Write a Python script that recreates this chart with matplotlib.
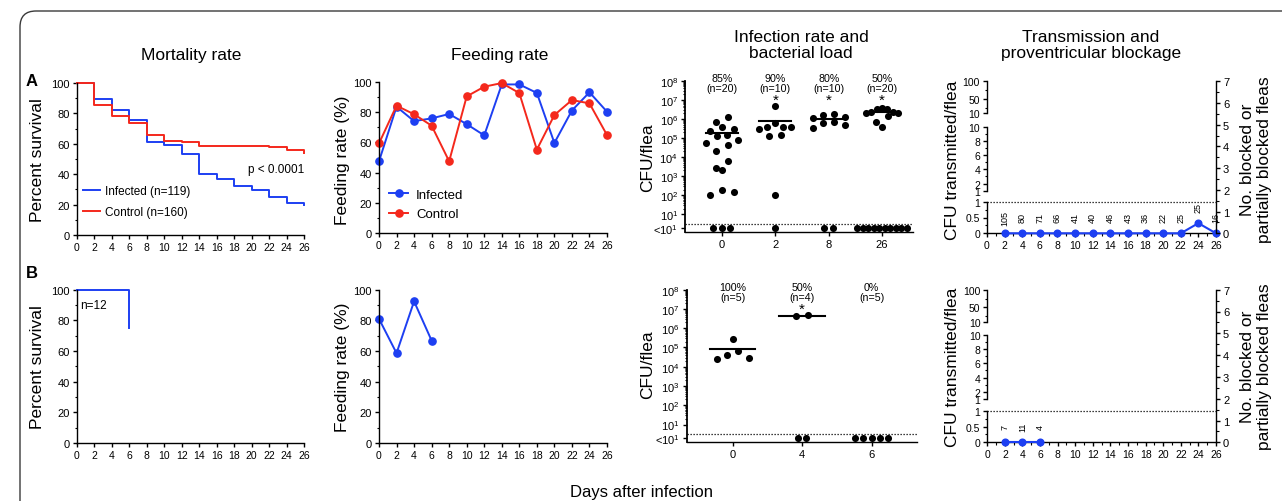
import numpy as np
import matplotlib
matplotlib.use('Agg')
import matplotlib.pyplot as plt
from matplotlib.patches import FancyBboxPatch
from matplotlib.ticker import MultipleLocator, FixedLocator, FixedFormatter, FuncFormatter
from matplotlib.transforms import blended_transform_factory

plt.rcParams['font.family'] = ['Liberation Sans', 'DejaVu Sans']
plt.rcParams['mathtext.default'] = 'regular'
plt.rcParams['axes.linewidth'] = 1.0
plt.rcParams['xtick.major.width'] = 1.0
plt.rcParams['ytick.major.width'] = 1.0
plt.rcParams['xtick.minor.width'] = 0.8
plt.rcParams['ytick.minor.width'] = 0.8
plt.rcParams['xtick.major.size'] = 3
plt.rcParams['ytick.major.size'] = 3
plt.rcParams['xtick.minor.size'] = 1.8
plt.rcParams['ytick.minor.size'] = 1.8
plt.rcParams['xtick.major.pad'] = 2
plt.rcParams['ytick.major.pad'] = 2
plt.rcParams['xtick.labelsize'] = 7.5
plt.rcParams['ytick.labelsize'] = 8

BLUE = '#1d3ff2'
RED = '#f4281c'

# ---------------- data ----------------
days = [0, 2, 4, 6, 8, 10, 12, 14, 16, 18, 20, 22, 24, 26]
surv_infected = [100, 89.5, 82, 75.5, 61.5, 59.5, 53, 40, 37, 32.5, 29.5, 25, 21, 19.5]
surv_control = [100, 85.5, 78, 73.5, 66, 62, 61, 58.5, 58.5, 58.5, 58.5, 57.8, 55.8, 54]
feed_infected = [47.5, 83.5, 74, 75.8, 78.7, 72, 64.6, 98.2, 98.2, 92.6, 59.6, 81, 93, 80.2]
feed_control = [59.3, 84.2, 78.5, 71, 47.5, 90.3, 96.7, 99.1, 92.5, 55.2, 78, 87.9, 85.7, 64.8]

days_b_surv = [0, 6]
surv_b = [100, 75]
days_b_feed = [0, 2, 4, 6]
feed_b = [81, 58.6, 92.4, 66.8]

cfu_labels_a = ['0', '2', '8', '26']
cfu_a = [
    [1.2e6, 7.0e5, 3.8e5, 2.9e5, 2.3e5, 1.4e5, 1.3e5, 7.8e4, 5.4e4, 4.1e4, 2.2e4,
     5.9e3, 2.6e3, 2.0e3, 190, 150, 100],
    [4.7e6, 6.2e5, 4.0e5, 3.8e5, 3.6e5, 2.9e5, 1.4e5, 1.3e5, 100],
    [1.9e6, 1.7e6, 1.3e6, 1.1e6, 6.6e5, 5.8e5, 4.7e5, 3.4e5],
    [3.7e6, 3.4e6, 3.4e6, 2.3e6, 2.3e6, 2.1e6, 2.1e6, 1.4e6, 6.9e5, 3.8e5],
]
cfu_n_a = [20, 10, 10, 20]
cfu_sig_a = [False, True, True, True]

cfu_labels_b = ['0', '4', '6']
cfu_b = [
    [2.8e5, 6.3e4, 4.3e4, 2.9e4, 2.6e4],
    [4.1e6, 4.9e6],
    [],
]
cfu_n_b = [5, 4, 5]
cfu_sig_b = [False, True, False]

LOD_PLOT = 2.0      # where "<10^1" values are shown
LOD_LINE = 3.2      # dotted detection-limit line

tr_days_a = [2, 4, 6, 8, 10, 12, 14, 16, 18, 20, 22, 24, 26]
tr_cfu_a = [0, 0, 0, 0, 0, 0, 0, 0, 0, 0, 0, 0.32, 0]
tr_n_a = [105, 80, 71, 66, 41, 40, 46, 43, 36, 22, 25, 25, 16]
tr_days_b = [2, 4, 6]
tr_cfu_b = [0, 0, 0]
tr_n_b = [7, 11, 4]

# ---------------- figure ----------------
W, H = 1282, 502
fig = plt.figure(figsize=(W / 100, H / 100), dpi=100)


def add_ax(l, t, r, b):
    return fig.add_axes([l / W, 1 - b / H, (r - l) / W, (b - t) / H])


def ftext(x, y, s, **kw):
    fig.text(x / W, 1 - y / H, s, **kw)


def clean(ax):
    ax.spines['top'].set_visible(False)
    ax.spines['right'].set_visible(False)


def mortality_panel(ax, series):
    clean(ax)
    for x, y, c, lab in series:
        ax.step(x, y, where='post', color=c, lw=1.4, clip_on=False, label=lab)
    ax.set_xlim(0, 26)
    ax.set_ylim(0, 100)
    ax.xaxis.set_major_locator(MultipleLocator(2))
    ax.yaxis.set_major_locator(MultipleLocator(20))
    ax.yaxis.set_minor_locator(MultipleLocator(10))


def feeding_panel(ax, series):
    clean(ax)
    for x, y, c, lab in series:
        ax.plot(x, y, color=c, lw=1.4, marker='o', ms=5.2, clip_on=False, label=lab)
    ax.set_xlim(0, 26)
    ax.set_ylim(0, 100)
    ax.xaxis.set_major_locator(MultipleLocator(2))
    ax.yaxis.set_major_locator(MultipleLocator(20))
    ax.yaxis.set_minor_locator(MultipleLocator(10))


def swarm(ax, xc, vals, sp, max_w, row_px=8.0):
    vals = np.asarray(vals, float)
    if len(vals) == 0:
        return np.array([])
    inv = ax.transData.inverted()
    pts = ax.transData.transform(np.column_stack([np.full(len(vals), xc), vals]))
    order = np.argsort(-pts[:, 1], kind='stable')
    rows, cur = [], []
    for i in order:
        if cur and pts[cur[0], 1] - pts[i, 1] > row_px:
            rows.append(cur)
            cur = []
        cur.append(i)
    rows.append(cur)
    xs = np.zeros(len(vals))
    for row in rows:
        n = len(row)
        step = sp if n == 1 else min(sp, max_w / (n - 1))
        if n % 2:
            slots = [0] + [s for k in range(1, n // 2 + 1) for s in (k, -k)]
        else:
            slots = [s for k in range(n // 2) for s in (k + 0.5, -(k + 0.5))]
        for i, s in zip(row, slots):
            xs[i] = inv.transform((pts[i, 0] + s * step, pts[i, 1]))[0]
    return xs


def infection_panel(ax, labels, groups, ns, sig, xlim, half=0.3):
    clean(ax)
    ax.set_yscale('log')
    ax.set_ylim(1.2, 1e8)
    ax.set_xlim(*xlim)
    ax.spines['left'].set_linewidth(1.3)
    ax.set_xticks(range(len(labels)))
    ax.set_xticklabels(labels, fontsize=8)
    majors = [LOD_PLOT] + [10.0 ** e for e in range(1, 9)]
    ax.yaxis.set_major_locator(FixedLocator(majors))
    ax.yaxis.set_major_formatter(FixedFormatter(
        ['<10$^{1}$'] + ['10$^{%d}$' % e for e in range(1, 9)]))
    ax.yaxis.set_minor_locator(FixedLocator(
        [k * 10.0 ** e for e in range(1, 8) for k in range(2, 10)]))
    ax.yaxis.set_minor_formatter(FuncFormatter(lambda v, p: ''))
    ax.tick_params(axis='y', which='minor', length=1.8)
    bt = blended_transform_factory(ax.transData, ax.transAxes)
    for i, (vals, n, s) in enumerate(zip(groups, ns, sig)):
        vals = np.asarray(vals, float)
        xs = swarm(ax, i, vals, 12, 32)
        if len(vals):
            ax.scatter(xs, vals, s=26, color='k', zorder=3, linewidths=0, clip_on=False)
            ax.plot([i - half, i + half], [vals.mean()] * 2, color='k', lw=1.5, zorder=4)
        lod = np.full(n - len(vals), LOD_PLOT)
        xl = swarm(ax, i, lod, 8.4, 50)
        if len(lod):
            ax.scatter(xl, lod, s=26, color='k', zorder=3, linewidths=0, clip_on=False)
        pct = round(100 * len(vals) / n)
        ax.text(i, 0.985, f'{pct}%\n(n={n})', transform=bt, ha='center', va='center',
                fontsize=7.7, linespacing=1.05)
        if s:
            ax.text(i, 0.872, '*', transform=bt, ha='center', va='center', fontsize=11)
    ax.axhline(LOD_LINE, ls=(0, (1, 1.4)), color='k', lw=0.9)


def transmission_panel(l, r, segs, tdays, cfu, ns):
    (t1, b1), (t2, b2), (t3, b3) = segs
    top = add_ax(l, t1, r, b1)
    mid = add_ax(l, t2, r, b2)
    bot = add_ax(l, t3, r, b3)
    top.set_ylim(10, 100)
    mid.set_ylim(1, 10)
    bot.set_ylim(0, 1)
    for a in (top, mid, bot):
        a.set_xlim(0, 26)
        clean(a)
        a.patch.set_visible(False)
        a.tick_params(axis='y', labelsize=7.5)
    for a in (top, mid):
        a.spines['bottom'].set_visible(False)
        a.tick_params(axis='x', which='both', bottom=False, labelbottom=False)
    top.yaxis.set_major_locator(FixedLocator([10, 50, 100]))
    top.yaxis.set_minor_locator(FixedLocator([25, 75]))
    mid.yaxis.set_major_locator(FixedLocator([1, 2, 4, 6, 8, 10]))
    mid.yaxis.set_minor_locator(FixedLocator([3, 5, 7, 9]))
    bot.yaxis.set_major_locator(FixedLocator([0, 0.5, 1]))
    bot.yaxis.set_minor_locator(FixedLocator([0.25, 0.75]))
    bot.yaxis.set_major_formatter(FuncFormatter(lambda v, p: f'{v:g}'))
    bot.xaxis.set_major_locator(MultipleLocator(2))
    bot.xaxis.set_minor_locator(MultipleLocator(1))
    bot.plot(tdays, cfu, color=BLUE, lw=1.5, marker='o', ms=4.8, clip_on=False, zorder=4)
    for d, v, n in zip(tdays, cfu, ns):
        bot.annotate(str(n), (d, v), xytext=(0, 11.5), textcoords='offset points',
                     rotation=90, ha='center', va='center', fontsize=6.5,
                     annotation_clip=False)
    bot.axhline(1, ls=(0, (1, 1.4)), color='k', lw=0.9, clip_on=False)
    right = add_ax(l, t1, r, b3)
    right.patch.set_visible(False)
    for sp in ('top', 'left', 'bottom'):
        right.spines[sp].set_visible(False)
    right.set_xlim(0, 26)
    right.set_ylim(0, 7)
    right.tick_params(axis='x', which='both', bottom=False, labelbottom=False)
    right.yaxis.tick_right()
    right.yaxis.set_major_locator(MultipleLocator(1))
    right.yaxis.set_minor_locator(MultipleLocator(0.5))


# ---- Row A ----
axA1 = add_ax(77, 84, 304, 236)
mortality_panel(axA1, [(days, surv_infected, BLUE, 'Infected (n=119)'),
                       (days, surv_control, RED, 'Control (n=160)')])
axA1.legend(loc='upper left', bbox_to_anchor=(0.026, 0.33), frameon=False, fontsize=8.5,
            handlelength=1.45, handletextpad=0.45, labelspacing=0.75,
            borderpad=0, borderaxespad=0)
axA1.text(26, 43.5, 'p < 0.0001', ha='right', va='center', fontsize=8.5)

axA2 = add_ax(379, 82.7, 607, 234.3)
feeding_panel(axA2, [(days, feed_infected, BLUE, 'Infected'),
                     (days, feed_control, RED, 'Control')])
axA2.legend(loc='upper left', bbox_to_anchor=(0.044, 0.295), frameon=False, fontsize=9.5,
            handlelength=1.45, handletextpad=0.6, labelspacing=0.55,
            borderpad=0, borderaxespad=0)

axA3 = add_ax(685, 81.7, 913, 233)
infection_panel(axA3, cfu_labels_a, cfu_a, cfu_n_a, cfu_sig_a, (-0.69, 3.58))

transmission_panel(987, 1216, [(82.3, 114.3), (127.7, 191.7), (202.7, 234.3)],
                   tr_days_a, tr_cfu_a, tr_n_a)

# ---- Row B ----
axB1 = add_ax(77, 290.7, 304, 444)
mortality_panel(axB1, [(days_b_surv, surv_b, BLUE, 'Infected')])
axB1.text(0.4, 90, 'n=12', ha='left', va='center', fontsize=8.5)

axB2 = add_ax(379, 290.7, 607, 444)
feeding_panel(axB2, [(days_b_feed, feed_b, BLUE, 'Infected')])

axB3 = add_ax(686.7, 290.7, 916.7, 443.3)
infection_panel(axB3, cfu_labels_b, cfu_b, cfu_n_b, cfu_sig_b, (-0.66, 2.65), half=0.33)

transmission_panel(987.3, 1216, [(290.7, 322.7), (335.7, 400), (411.7, 443.3)],
                   tr_days_b, tr_cfu_b, tr_n_b)

# ---- labels & titles ----
LS = 12.5
for y in (160, 367):
    ftext(38, y, 'Percent survival', rotation=90, ha='center', va='center', fontsize=LS)
    ftext(342, y, 'Feeding rate (%)', rotation=90, ha='center', va='center', fontsize=LS)
    ftext(647.5, y - 2, 'CFU/flea', rotation=90, ha='center', va='center', fontsize=LS)
    ftext(952, y, 'CFU transmitted/flea', rotation=90, ha='center', va='center', fontsize=LS)
    ftext(1256, y, 'No. blocked or\npartially blocked fleas', rotation=90, ha='center',
          va='center', fontsize=LS, linespacing=1.1)

ftext(191, 55.5, 'Mortality rate', ha='center', va='center', fontsize=LS)
ftext(500, 55.5, 'Feeding rate', ha='center', va='center', fontsize=LS)
ftext(801, 45.5, 'Infection rate and\nbacterial load', ha='center', va='center',
      fontsize=LS, linespacing=1.05)
ftext(1091, 45.5, 'Transmission and\nproventricular blockage', ha='center', va='center',
      fontsize=LS, linespacing=1.05)
ftext(32, 82, 'A', ha='center', va='center', fontsize=12, fontweight='bold')
ftext(32, 274, 'B', ha='center', va='center', fontsize=12, fontweight='bold')
ftext(641, 492.5, 'Days after infection', ha='center', va='center', fontsize=12)

frame = FancyBboxPatch((0.20, -0.6), 13.5, 5.50, boxstyle='round,pad=0,rounding_size=0.16',
                       transform=fig.dpi_scale_trans, facecolor='none',
                       edgecolor='#3a3a3a', lw=1.0)
fig.patches.append(frame)

fig.savefig('out.png', dpi=100)
